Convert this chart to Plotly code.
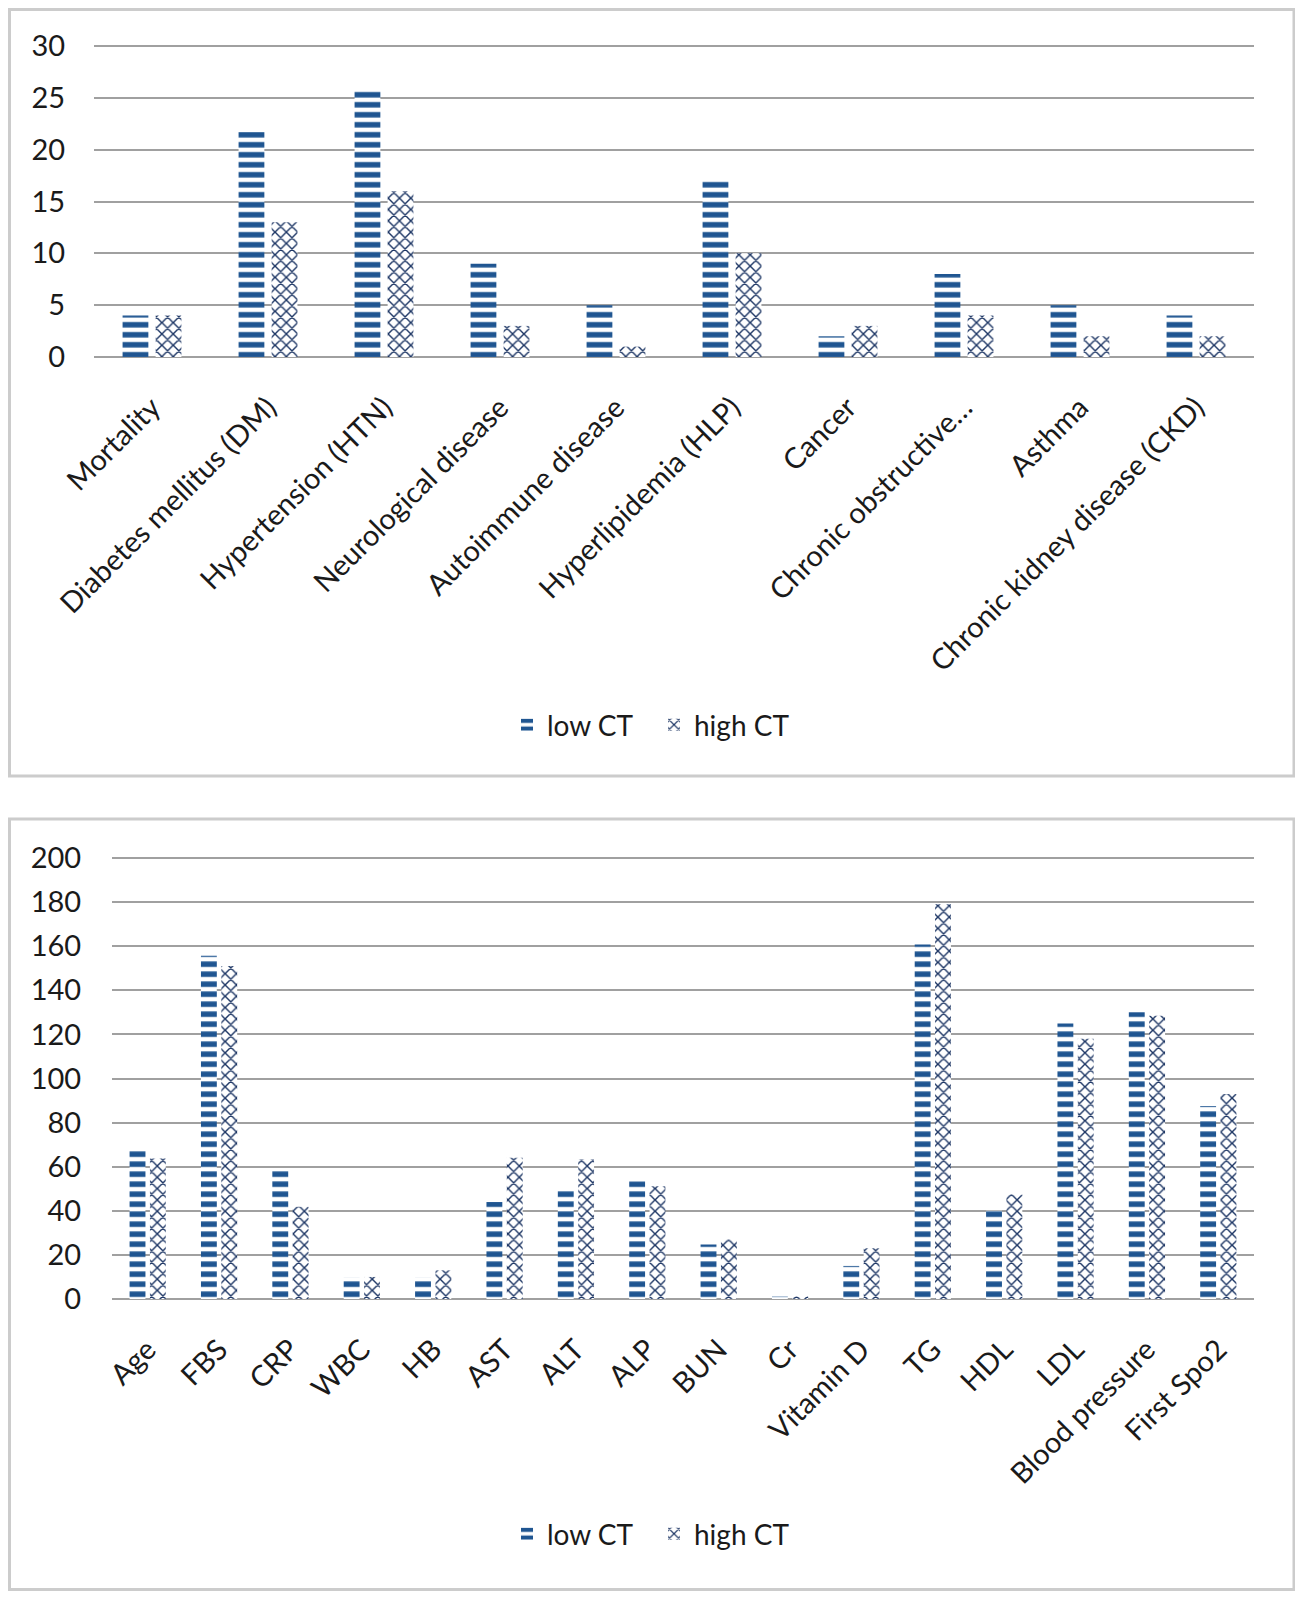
import plotly.graph_objects as go
from plotly.subplots import make_subplots

# top chart: comorbidities
cats_top = ['Mortality', 'Diabetes mellitus (DM)', 'Hypertension (HTN)',
            'Neurological disease', 'Autoimmune disease', 'Hyperlipidemia (HLP)',
            'Cancer', 'Chronic obstructive…', 'Asthma', 'Chronic kidney disease (CKD)']
low_top = [4, 21.7, 25.8, 9, 5, 17, 2, 8, 5, 4]
high_top = [4, 13, 16, 3, 1, 10, 3, 4, 2, 2]

# bottom chart: lab values
cats_bot = ['Age', 'FBS', 'CRP', 'WBC', 'HB', 'AST', 'ALT', 'ALP', 'BUN', 'Cr',
            'Vitamin D', 'TG', 'HDL', 'LDL', 'Blood pressure', 'First Spo2']
low_bot = [68.2, 155.7, 58.4, 9.7, 9.7, 44, 49, 53.4, 24.7, 1.1,
           15, 160.8, 40, 125, 130, 87.5]
high_bot = [63.7, 151, 41.8, 10, 13, 64.1, 63.3, 51.1, 27, 1.2,
            23, 179, 47.5, 118, 128.5, 93]

# page is 1303x1599, html body adds an 8px margin
PAGE_W, PAGE_H = 1303, 1599
OFF = 8
W, H = PAGE_W - 2 * OFF, PAGE_H - 2 * OFF
FONT = 'Lato'
TXT = '#1a1a1a'
GRID = '#a0a0a0'
LOW_COL = '#1f5591'
HIGH_COL = '#1c3564'

low_pat = dict(shape='-', fgcolor=LOW_COL, bgcolor='white', size=10,
               solidity=0.55, fgopacity=1)
high_pat = dict(shape='x', fgcolor=HIGH_COL, bgcolor='white', size=8,
                solidity=0.32, fgopacity=1)

fig = make_subplots(rows=2, cols=1)

fig.add_trace(go.Bar(x=cats_top, y=low_top, name='low CT', legend='legend',
                     marker=dict(color='white', line=dict(width=0), pattern=low_pat)),
              row=1, col=1)
fig.add_trace(go.Bar(x=cats_top, y=high_top, name='high CT', legend='legend',
                     marker=dict(color='white', line=dict(width=0), pattern=high_pat)),
              row=1, col=1)
fig.add_trace(go.Bar(x=cats_bot, y=low_bot, name='low CT', legend='legend2',
                     marker=dict(color='white', line=dict(width=0), pattern=low_pat)),
              row=2, col=1)
fig.add_trace(go.Bar(x=cats_bot, y=high_bot, name='high CT', legend='legend2',
                     marker=dict(color='white', line=dict(width=0), pattern=high_pat)),
              row=2, col=1)

# convert page pixel positions to paper fractions
def px_x(p):
    return (p - OFF) / W

def px_y(p):
    return 1 - (p - OFF) / H

def y_domain(zero_px, top_px, top_val, extra):
    # extend the range a little so the top gridline is drawn
    ppu = (zero_px - top_px) / top_val
    return [px_y(zero_px), px_y(top_px - extra * ppu)], [0, top_val + extra]

dom1, rng1 = y_domain(357, 46, 30, 0.6)
dom2, rng2 = y_domain(1299, 858, 200, 4)

xcommon = dict(tickangle=-45, showgrid=False, showline=False, zeroline=False,
               ticks='outside', ticklen=21, tickcolor='rgba(0,0,0,0)',
               automargin=False, tickfont=dict(family=FONT, size=29, color=TXT))
ycommon = dict(showgrid=True, gridcolor=GRID, gridwidth=2, zeroline=True,
               zerolinecolor=GRID, zerolinewidth=2, showline=False,
               ticks='outside', tickcolor='rgba(0,0,0,0)',
               automargin=False, tickfont=dict(family=FONT, size=29, color=TXT))

fig.update_layout(
    xaxis=dict(domain=[px_x(94), px_x(1254)], **xcommon),
    yaxis=dict(domain=dom1, range=rng1, tick0=0, dtick=5, ticklen=22, **ycommon),
    xaxis2=dict(domain=[px_x(112), px_x(1254)], **xcommon),
    yaxis2=dict(domain=dom2, range=rng2, tick0=0, dtick=20, ticklen=24, **ycommon),
)

legend_style = dict(orientation='h', xanchor='left', yanchor='middle', x=px_x(507),
                    font=dict(family=FONT, size=28, color=TXT),
                    bgcolor='rgba(0,0,0,0)', itemwidth=30, traceorder='normal',
                    entrywidth=102, entrywidthmode='pixels')

fig.update_layout(
    width=W, height=H,
    margin=dict(l=0, r=0, t=0, b=0, autoexpand=False),
    paper_bgcolor='white', plot_bgcolor='white',
    barmode='group', bargap=0.43, bargroupgap=0.22,
    showlegend=True,
    legend=dict(y=px_y(725), **legend_style),
    legend2=dict(y=px_y(1534), **legend_style),
    font=dict(family=FONT, color=TXT),
)

# chart frames
for y0, y1 in [(9.5, 776), (819, 1589.5)]:
    fig.add_shape(type='rect', xref='paper', yref='paper',
                  x0=px_x(9.5), x1=px_x(1294), y0=px_y(y1), y1=px_y(y0),
                  line=dict(color='#cccccc', width=3), layer='below')

fig.write_html('out.html')
